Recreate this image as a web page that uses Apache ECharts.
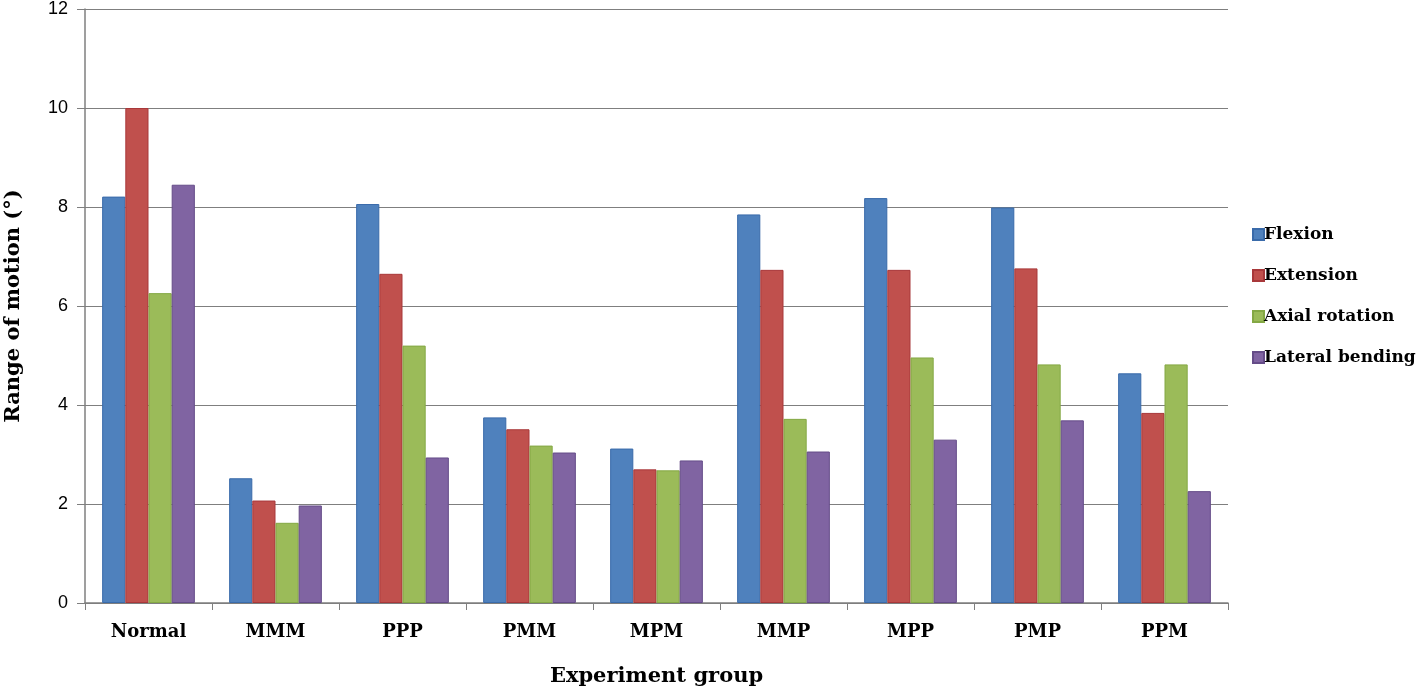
<!DOCTYPE html>
<html>
<head>
<meta charset="utf-8">
<script src="https://cdn.jsdelivr.net/npm/echarts@6/dist/echarts.min.js"></script>
<style>html,body{margin:0;padding:0;background:#fff;}#c{width:1418px;height:693px;}</style>
</head>
<body>
<div id="c"></div>
<script>
const categories = ['Normal','MMM','PPP','PMM','MPM','MMP','MPP','PMP','PPM'];
const flexion = [8.21, 2.52, 8.06, 3.75, 3.12, 7.85, 8.18, 7.99, 4.64];
const extension = [10.0, 2.07, 6.65, 3.51, 2.70, 6.73, 6.73, 6.76, 3.84];
const axialRotation = [6.26, 1.62, 5.20, 3.18, 2.68, 3.72, 4.96, 4.82, 4.82];
const lateralBending = [8.45, 1.97, 2.94, 3.04, 2.88, 3.06, 3.30, 3.69, 2.26];
const seriesNames = ['Flexion','Extension','Axial rotation','Lateral bending'];
const colors = ['#4F81BD','#C0504D','#9BBB59','#8064A2'];
const borders = ['#3A6BAA','#A8383A','#84A844','#654C88'];

const chart = echarts.init(document.getElementById('c'));
const dataSets = [flexion, extension, axialRotation, lateralBending];
const serif = 'DejaVu Serif';
chart.setOption({
  animation: false,
  backgroundColor: '#fff',
  grid: {left: 85, right: 190, top: 9, bottom: 90, containLabel: false, outerBoundsMode: 'none'},
  legend: {
    orient: 'vertical', left: 1247, top: 221,
    itemWidth: 11, itemHeight: 11, itemGap: 24,
    icon: 'rect',
    textStyle: {fontFamily: serif, fontWeight: 'bold', fontSize: 17, color: '#000', padding: [0,0,0,-5]},
    data: seriesNames
  },
  xAxis: {
    type: 'category', data: categories,
    name: 'Experiment group', nameLocation: 'middle', nameGap: 63,
    nameTextStyle: {fontFamily: serif, fontWeight: 'bold', fontSize: 21, color: '#000'},
    axisLine: {lineStyle: {color: '#7F7F7F', width: 1.5}},
    axisTick: {show: true, length: 7, lineStyle: {color: '#7F7F7F'}},
    axisLabel: {fontFamily: serif, fontWeight: 'bold', fontSize: 18, color: '#000', margin: 20}
  },
  yAxis: {
    type: 'value', min: 0, max: 12, interval: 2,
    name: 'Range of motion (°)', nameLocation: 'middle', nameGap: 61,
    nameTextStyle: {fontFamily: serif, fontWeight: 'bold', fontSize: 21, color: '#000'},
    axisLine: {show: true, lineStyle: {color: '#7F7F7F', width: 1.5}},
    axisTick: {show: true, length: 8, lineStyle: {color: '#7F7F7F'}},
    axisLabel: {fontFamily: 'Liberation Sans', fontSize: 18, color: '#000', margin: 17},
    splitLine: {lineStyle: {color: '#7F7F7F', width: 1.2}}
  },
  series: dataSets.map((d, i) => ({
    name: seriesNames[i], type: 'bar', data: d,
    barGap: '0%', barCategoryGap: '27%',
    itemStyle: {color: colors[i], borderColor: borders[i], borderWidth: 1}
  }))
});
</script>
</body>
</html>
